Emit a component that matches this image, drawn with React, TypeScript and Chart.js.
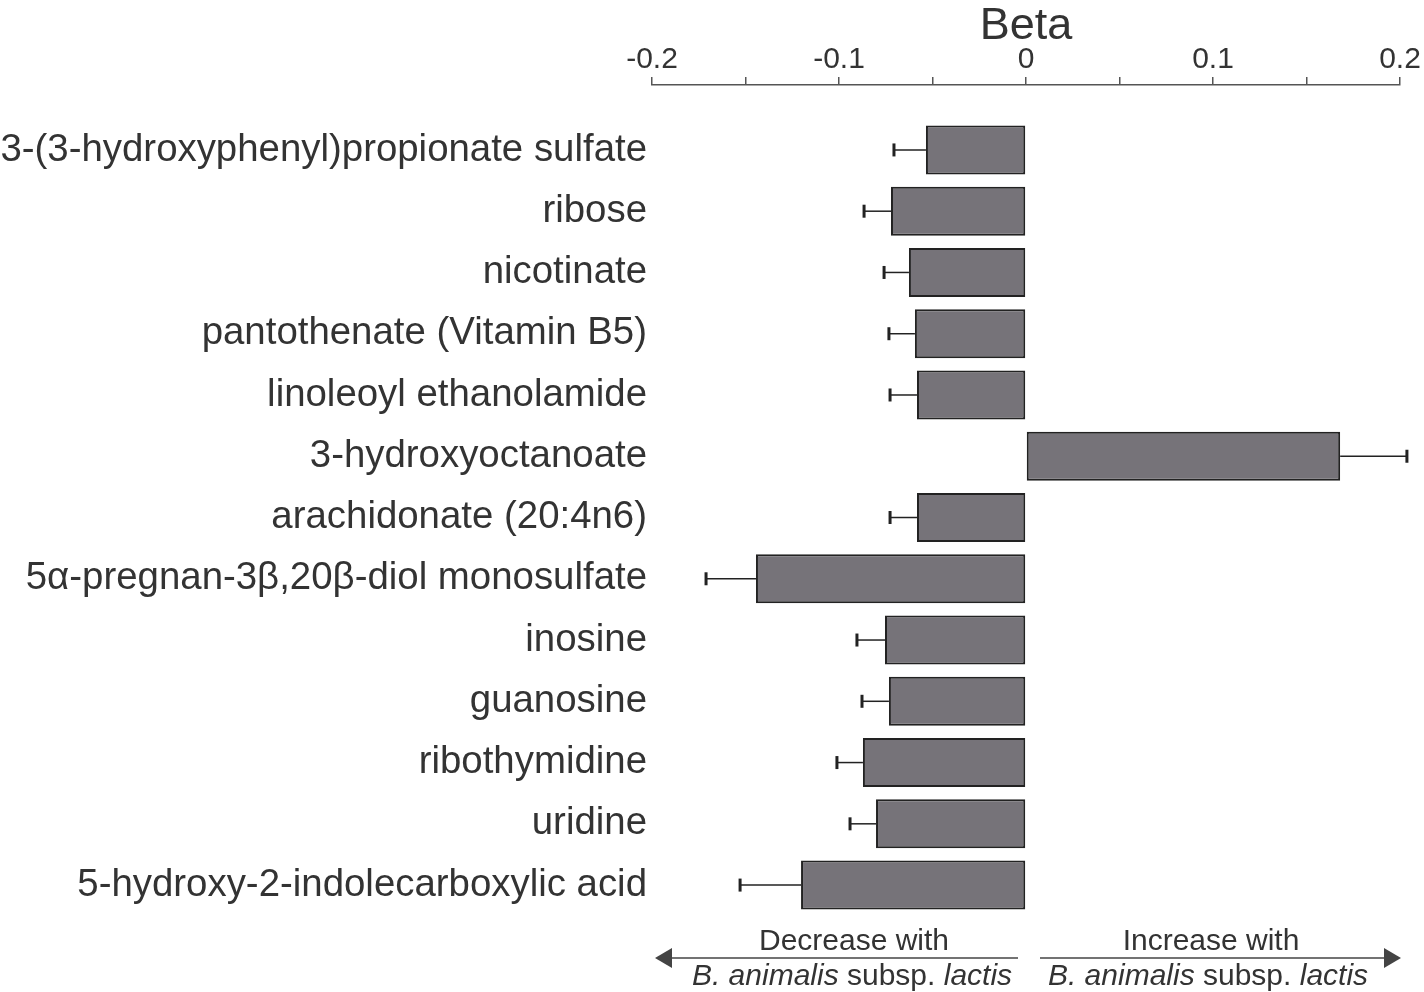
import React, { useEffect, useRef } from 'react';
import { Chart, registerables } from 'chart.js';
Chart.register(...registerables);

const metabolites = [
  '3-(3-hydroxyphenyl)propionate sulfate',
  'ribose',
  'nicotinate',
  'pantothenate (Vitamin B5)',
  'linoleoyl ethanolamide',
  '3-hydroxyoctanoate',
  'arachidonate (20:4n6)',
  '5\u03b1-pregnan-3\u03b2,20\u03b2-diol monosulfate',
  'inosine',
  'guanosine',
  'ribothymidine',
  'uridine',
  '5-hydroxy-2-indolecarboxylic acid',
];
const beta = [-0.0535, -0.0722, -0.0626, -0.0594, -0.0583, 0.168, -0.0583, -0.1444, -0.0754, -0.0733, -0.0872, -0.0802, -0.1203];
const stdErr = [0.0171, 0.0144, 0.0133, 0.0139, 0.0144, 0.0357, 0.0144, 0.0267, 0.015, 0.0144, 0.0139, 0.0139, 0.0326];
const xTickLabels = ['-0.2', '-0.1', '0', '0.1', '0.2'];
const axisTitle = 'Beta';
const decreaseText = 'Decrease with';
const increaseText = 'Increase with';

const FONT = '"Liberation Sans", Arial, Helvetica, sans-serif';
const TEXT = '#333333';
const LINE = '#222222';

const errorBarPlugin = {
  id: 'errorBars',
  afterDatasetsDraw(chart: any) {
    const ctx = chart.ctx;
    const xs = chart.scales.x;
    const ys = chart.scales.y;
    ctx.save();
    ctx.strokeStyle = LINE;
    beta.forEach((v, i) => {
      const sign = v >= 0 ? 1 : -1;
      const x0 = xs.getPixelForValue(v);
      const x1 = xs.getPixelForValue(v + sign * stdErr[i]);
      const y = ys.getPixelForValue(i);
      ctx.lineWidth = 1.5;
      ctx.beginPath();
      ctx.moveTo(x0, y);
      ctx.lineTo(x1, y);
      ctx.stroke();
      ctx.lineWidth = 3;
      ctx.beginPath();
      ctx.moveTo(x1, y - 6.5);
      ctx.lineTo(x1, y + 6.5);
      ctx.stroke();
    });
    ctx.restore();
  },
};

function drawMixed(ctx: CanvasRenderingContext2D, parts: [string, boolean][], cx: number, y: number, size: number) {
  const fontFor = (it: boolean) => `${it ? 'italic ' : ''}${size}px ${FONT}`;
  let total = 0;
  parts.forEach(([t, it]) => {
    ctx.font = fontFor(it);
    total += ctx.measureText(t).width;
  });
  let x = cx - total / 2;
  parts.forEach(([t, it]) => {
    ctx.font = fontFor(it);
    ctx.fillText(t, x, y);
    x += ctx.measureText(t).width;
  });
}

const annotationPlugin = {
  id: 'directionArrows',
  afterDraw(chart: any) {
    const ctx = chart.ctx as CanvasRenderingContext2D;
    const xs = chart.scales.x;
    const left = xs.getPixelForValue(-0.2);
    const zero = xs.getPixelForValue(0);
    const right = xs.getPixelForValue(0.2);
    const ay = 958;
    ctx.save();
    ctx.strokeStyle = '#444';
    ctx.fillStyle = '#444';
    ctx.lineWidth = 1.5;
    // left arrow
    ctx.beginPath();
    ctx.moveTo(left + 14, ay);
    ctx.lineTo(zero - 8, ay);
    ctx.stroke();
    ctx.beginPath();
    ctx.moveTo(left + 3, ay);
    ctx.lineTo(left + 20, ay - 10);
    ctx.lineTo(left + 20, ay + 10);
    ctx.closePath();
    ctx.fill();
    // right arrow
    ctx.beginPath();
    ctx.moveTo(zero + 14, ay);
    ctx.lineTo(right - 14, ay);
    ctx.stroke();
    ctx.beginPath();
    ctx.moveTo(right + 1, ay);
    ctx.lineTo(right - 16, ay - 10);
    ctx.lineTo(right - 16, ay + 10);
    ctx.closePath();
    ctx.fill();

    ctx.fillStyle = TEXT;
    ctx.textBaseline = 'alphabetic';
    ctx.textAlign = 'left';
    const lc = 853;
    const rc = 1210;
    drawMixed(ctx, [[decreaseText, false]], lc + 1, 950, 30);
    drawMixed(ctx, [[increaseText, false]], rc + 1, 950, 30);
    const species: [string, boolean][] = [['B. animalis', true], [' subsp. ', false], ['lactis', true]];
    drawMixed(ctx, species, lc - 1, 985, 30);
    drawMixed(ctx, species, rc - 2, 985, 30);
    ctx.restore();
  },
};

export default function App() {
  const ref = useRef<HTMLCanvasElement>(null);
  useEffect(() => {
    if (!ref.current) return;
    const chart = new Chart(ref.current, {
      type: 'bar',
      data: {
        datasets: [
          {
            data: beta.map((v, i) => ({ x: v, y: i })),
            backgroundColor: '#767379',
            borderColor: LINE,
            borderWidth: 2,
            barPercentage: 0.8,
            categoryPercentage: 1,
            borderSkipped: false,
          },
        ],
      },
      options: {
        indexAxis: 'y',
        animation: false,
        responsive: true,
        maintainAspectRatio: false,
        layout: { padding: { left: 0, right: 24, top: 0, bottom: 72 } },
        plugins: { legend: { display: false }, tooltip: { enabled: false } },
        scales: {
          x: {
            type: 'linear',
            position: 'top',
            min: -0.2,
            max: 0.2,
            afterFit: (s: any) => {
              s.height = 85;
            },
            ticks: {
              stepSize: 0.05,
              autoSkip: false,
              maxRotation: 0,
              padding: -1,
              color: TEXT,
              font: { family: FONT, size: 30 },
              callback: (v: any) => {
                const n = Number(v) * 10;
                if (Math.abs(n - Math.round(n)) > 1e-6) return '';
                return xTickLabels[Math.round(n) + 2] ?? '';
              },
            },
            grid: { drawOnChartArea: false, drawTicks: true, tickLength: 8, color: '#555', lineWidth: 1.5 },
            border: { display: true, color: '#555', width: 1.5 },
            title: { display: true, text: axisTitle, color: TEXT, font: { family: FONT, size: 45 }, padding: { top: 0, bottom: 0 } },
          },
          y: {
            type: 'linear',
            reverse: true,
            offset: false,
            min: -1.06,
            max: 12.57,
            afterFit: (s: any) => {
              s.width = 652;
            },
            ticks: {
              stepSize: 1,
              autoSkip: false,
              includeBounds: false,
              padding: 5,
              color: TEXT,
              font: { family: FONT, size: 38.4 },
              callback: (v: any) => metabolites[Number(v)] ?? '',
            },
            grid: { display: false, drawTicks: false, offset: false },
            border: { display: false },
          },
        },
      },
      plugins: [errorBarPlugin, annotationPlugin],
    } as any);
    return () => chart.destroy();
  }, []);
  return (
    <div style={{ position: 'absolute', left: 0, top: 0, width: 1424, height: 992, background: '#fff' }}>
      <canvas ref={ref} />
    </div>
  );
}
